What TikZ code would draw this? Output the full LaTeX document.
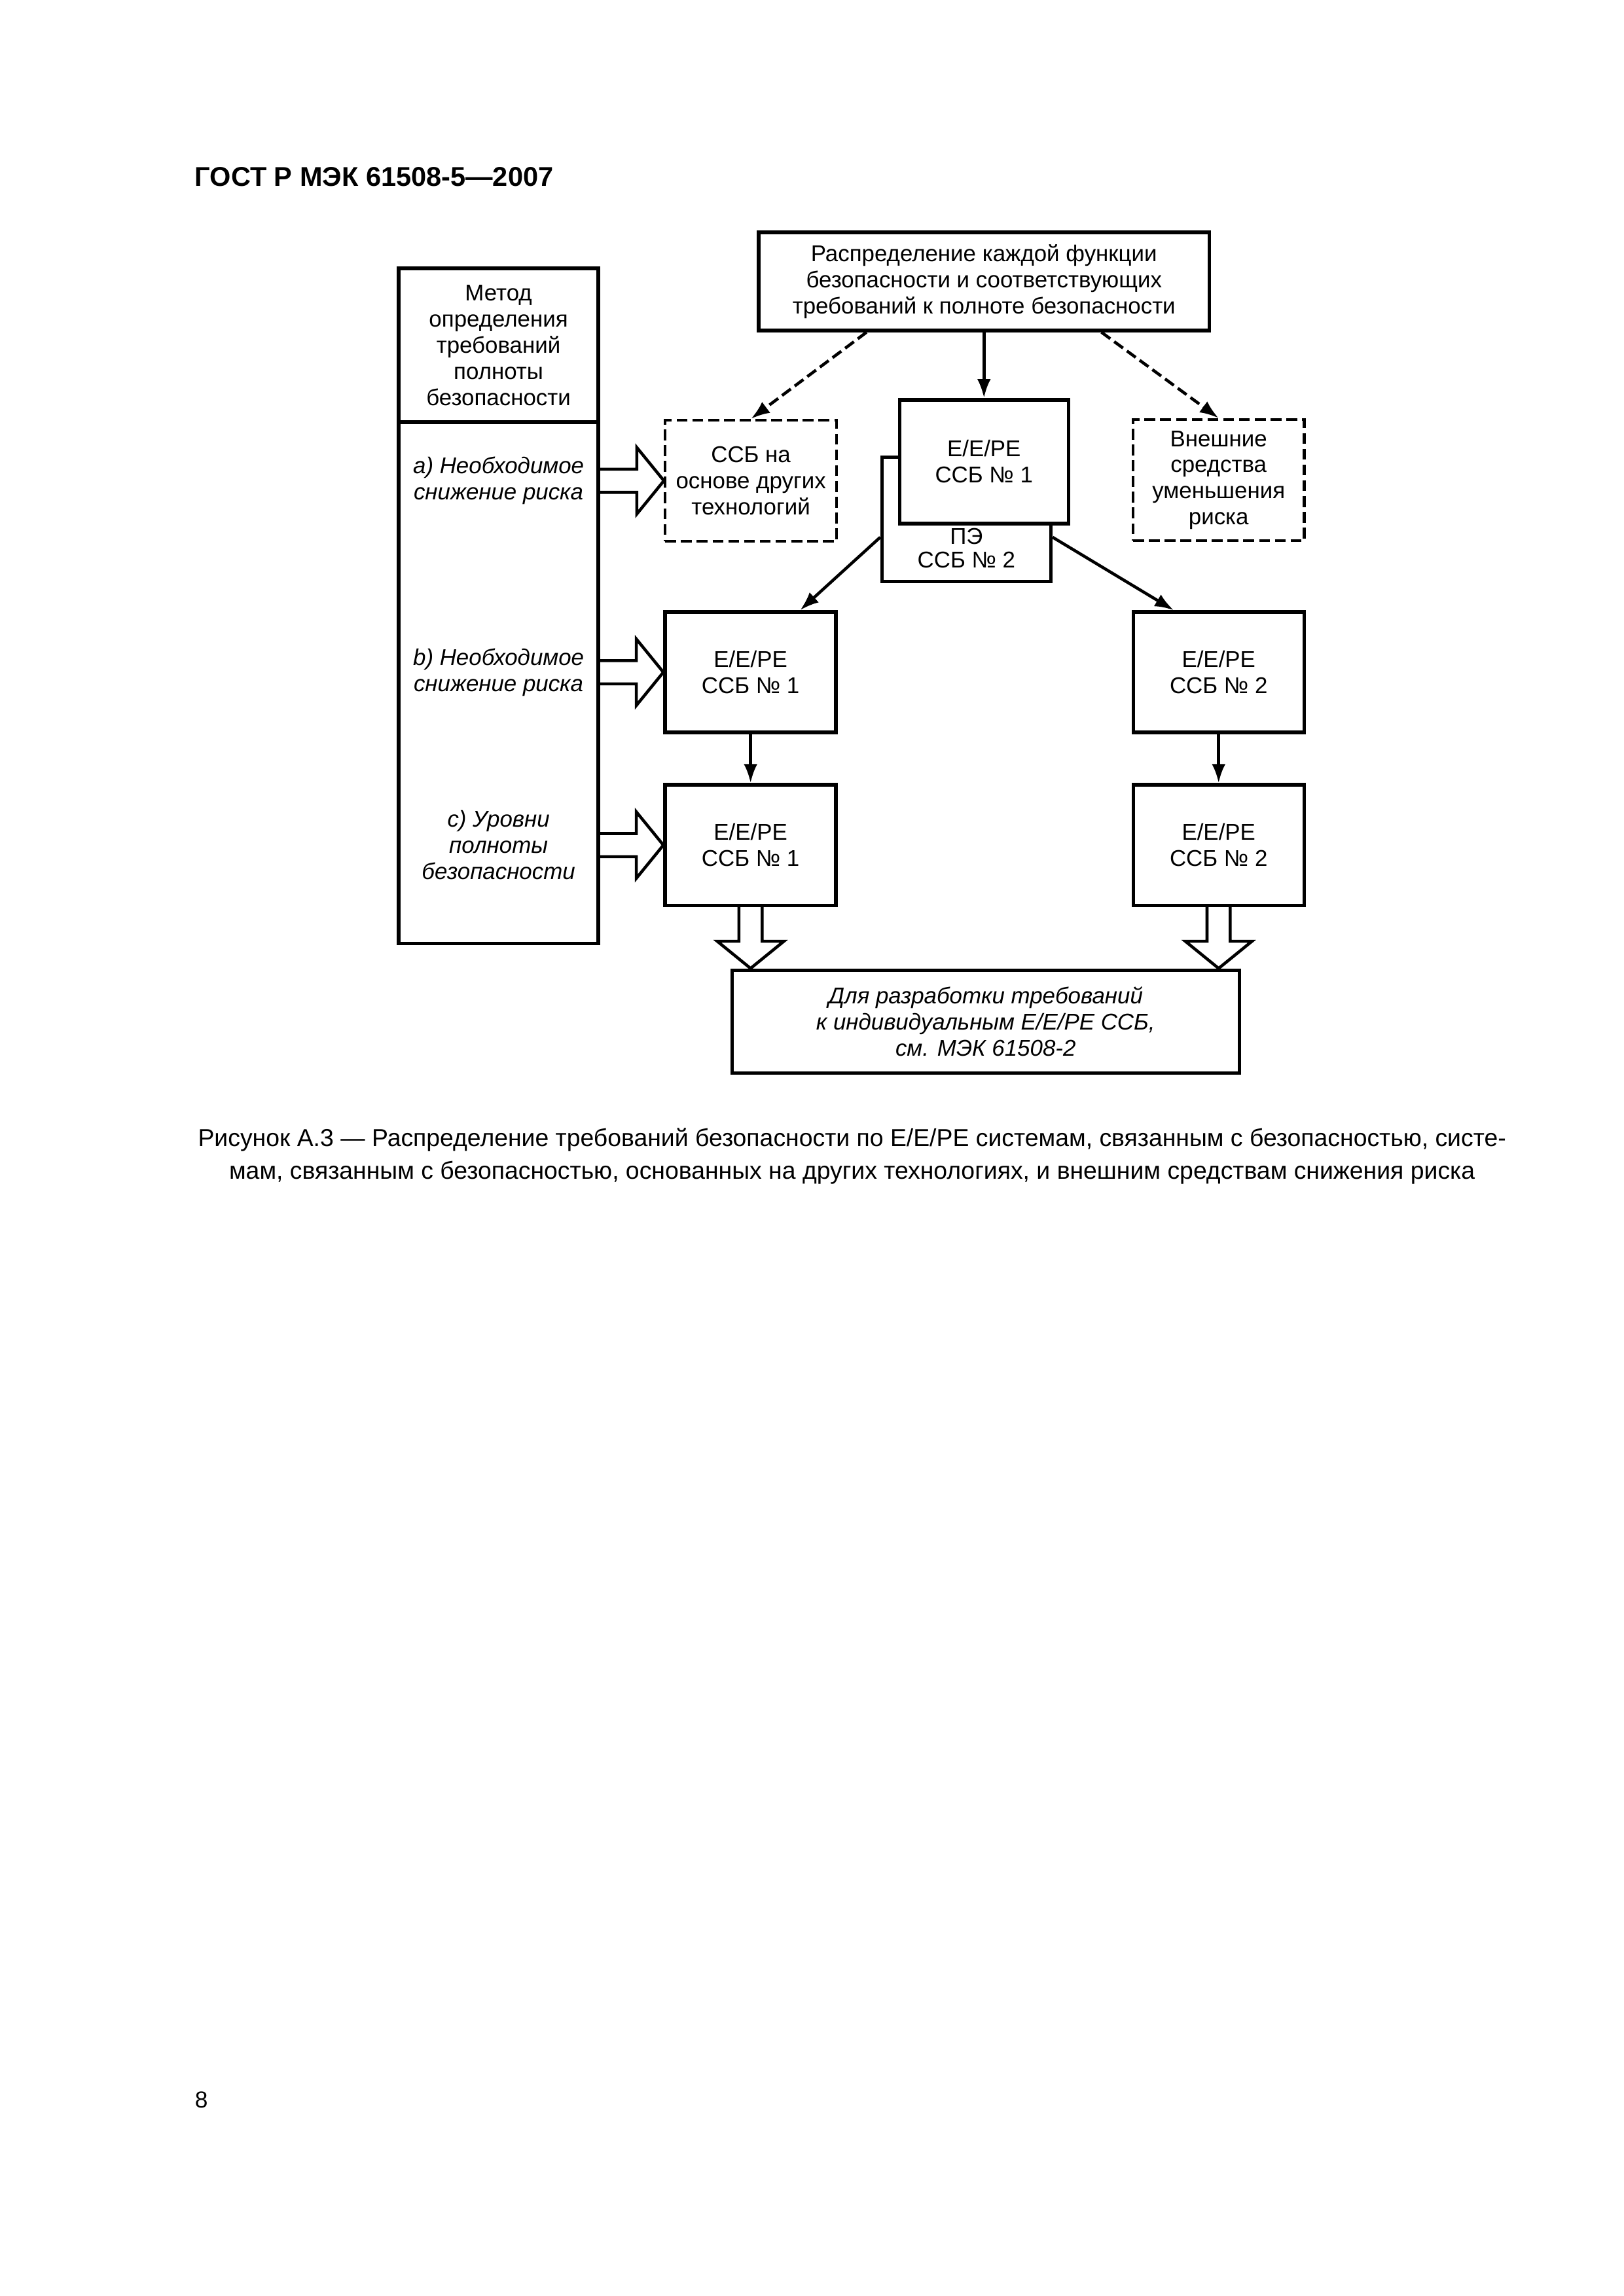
\documentclass[tikz,border=0pt]{standalone}
\usepackage{fontspec}
\setmainfont{Liberation Sans}
\usetikzlibrary{arrows.meta,positioning}

\newcommand{\hollowright}[2]{%
  \draw[hollow style] ([yshift=1.5mm]#1) -- ([shift={(-3.5mm,1.5mm)}]#2) -- ([shift={(-3.5mm,4.3mm)}]#2) -- (#2) -- ([shift={(-3.5mm,-4.3mm)}]#2) -- ([shift={(-3.5mm,-1.5mm)}]#2) -- ([yshift=-1.5mm]#1);}
\newcommand{\hollowdown}[2]{%
  \draw[hollow style] ([xshift=-1.5mm]#1) -- ([shift={(-1.5mm,3.5mm)}]#2) -- ([shift={(-4.3mm,3.5mm)}]#2) -- (#2) -- ([shift={(4.3mm,3.5mm)}]#2) -- ([shift={(1.5mm,3.5mm)}]#2) -- ([xshift=1.5mm]#1);}

\begin{document}
\begin{tikzpicture}
        \tikzset{box style/.style={draw, line width=1.3pt, fill=white, align=center, inner sep=0pt, font=\fontsize{8.4}{9.6}\selectfont}}
        \tikzset{dash box style/.style={draw, line width=1pt, dash pattern=on 4pt off 1.8pt, align=center, inner sep=0pt, font=\fontsize{8.4}{9.6}\selectfont}}
        \tikzset{text style/.style={align=center, inner sep=0pt, font=\itshape\fontsize{8.4}{9.6}\selectfont}}
        \tikzset{arrow style/.style={line width=1.1pt, -{Latex[length=7pt,width=5pt]}}}
        \tikzset{dash arrow style/.style={arrow style, dash pattern=on 4pt off 1.8pt}}
        \tikzset{hollow style/.style={line width=1.1pt}}

        \useasboundingbox (0,0) rectangle (21,29.7);

        \node[anchor=base west, inner sep=0pt, font=\bfseries\fontsize{10}{12}\selectfont] (gost) at (2.515,27.287) {ГОСТ Р МЭК 61508-5—2007};

        \node[box style, minimum width=5.826cm, minimum height=1.27cm] (alloc) at (12.727,26.059) {Распределение каждой функции\\безопасности и соответствующих\\требований к полноте безопасности};

        \node[box style, outer sep=0pt, minimum width=2.583cm, minimum height=1.99cm] (methHead) at (6.448,25.233) {Метод\\определения\\требований\\полноты\\безопасности};
        \node[box style, outer sep=0pt, minimum width=2.583cm, minimum height=6.74cm, below=0pt of methHead] (methBody) {};

        \node[dash box style, minimum width=2.215cm, minimum height=1.566cm] (techA) at (9.712,23.481) {ССБ на\\основе других\\технологий};
        \node[dash box style, minimum width=2.215cm, minimum height=1.566cm] (ext) at (15.762,23.49) {Внешние\\средства\\уменьшения\\риска};

        \node[box style, minimum width=2.185cm, minimum height=1.609cm] (pe2) at (12.5,22.98) {};
        \node[anchor=south, align=center, inner sep=0pt, font=\fontsize{8.4}{8.8}\selectfont] (pe2txt) at ([yshift=1.9mm]pe2.south) {ПЭ\\ССБ № 2};
        \node[box style, minimum width=2.185cm, minimum height=1.6cm] (ee1) at (12.727,23.728) {E/E/PE\\ССБ № 1};

        \node[box style, minimum width=2.21cm, minimum height=1.558cm] (sysB1) at (9.708,21.004) {E/E/PE\\ССБ № 1};
        \node[box style, minimum width=2.21cm, minimum height=1.558cm] (sysB2) at (15.762,21.004) {E/E/PE\\ССБ № 2};
        \node[box style, minimum width=2.21cm, minimum height=1.558cm] (sysC1) at (9.708,18.768) {E/E/PE\\ССБ № 1};
        \node[box style, minimum width=2.21cm, minimum height=1.558cm] (sysC2) at (15.762,18.768) {E/E/PE\\ССБ № 2};

        \node[text style] (reqA) at (methBody.center |- techA.center) {a) Необходимое\\снижение риска};
        \node[text style] (reqB) at (methBody.center |- sysB1.center) {b) Необходимое\\снижение риска};
        \node[text style] (reqC) at (methBody.center |- sysC1.center) {c) Уровни\\полноты\\безопасности};

        \node[box style, font=\itshape\fontsize{8.4}{9.6}\selectfont, minimum width=6.562cm, minimum height=1.329cm] (dev) at (12.748,16.486) {Для разработки требований\\к индивидуальным E/E/PE ССБ,\\см. МЭК 61508-2};

        \node[align=center, inner sep=0pt, font=\fontsize{9}{12}\selectfont] (capt) at (11.02,14.746) {Рисунок А.3 — Распределение требований безопасности по E/E/PE системам, связанным с безопасностью, систе-\\мам, связанным с безопасностью, основанных на других технологиях, и внешним средствам снижения риска};

        \node[anchor=base west, inner sep=0pt, font=\fontsize{8.5}{10}\selectfont] (pnum) at (2.515,2.435) {8};

        \draw[arrow style] (alloc.south) -- (ee1.north);
        \draw[dash arrow style] ([xshift=-15.2mm]alloc.south) -- (techA.north);
        \draw[dash arrow style] ([xshift=15.2mm]alloc.south) -- (ext.north);
        \draw[arrow style] ([yshift=-2.3mm]pe2.west) -- ([xshift=6.4mm]sysB1.north);
        \draw[arrow style] ([yshift=-2.3mm]pe2.east) -- ([xshift=-5.8mm]sysB2.north);
        \draw[arrow style] (sysB1) -- (sysC1);
        \draw[arrow style] (sysB2) -- (sysC2);

        \coordinate (aS) at (methBody.east |- techA.west);
        \coordinate (bS) at (methBody.east |- sysB1.west);
        \coordinate (cS) at (methBody.east |- sysC1.west);
        \hollowright{aS}{techA.west}
        \hollowright{bS}{sysB1.west}
        \hollowright{cS}{sysC1.west}

        \coordinate (dL) at (sysC1.south |- dev.north);
        \coordinate (dR) at (sysC2.south |- dev.north);
        \hollowdown{sysC1.south}{dL}
        \hollowdown{sysC2.south}{dR}
    \end{tikzpicture}
\end{document}
